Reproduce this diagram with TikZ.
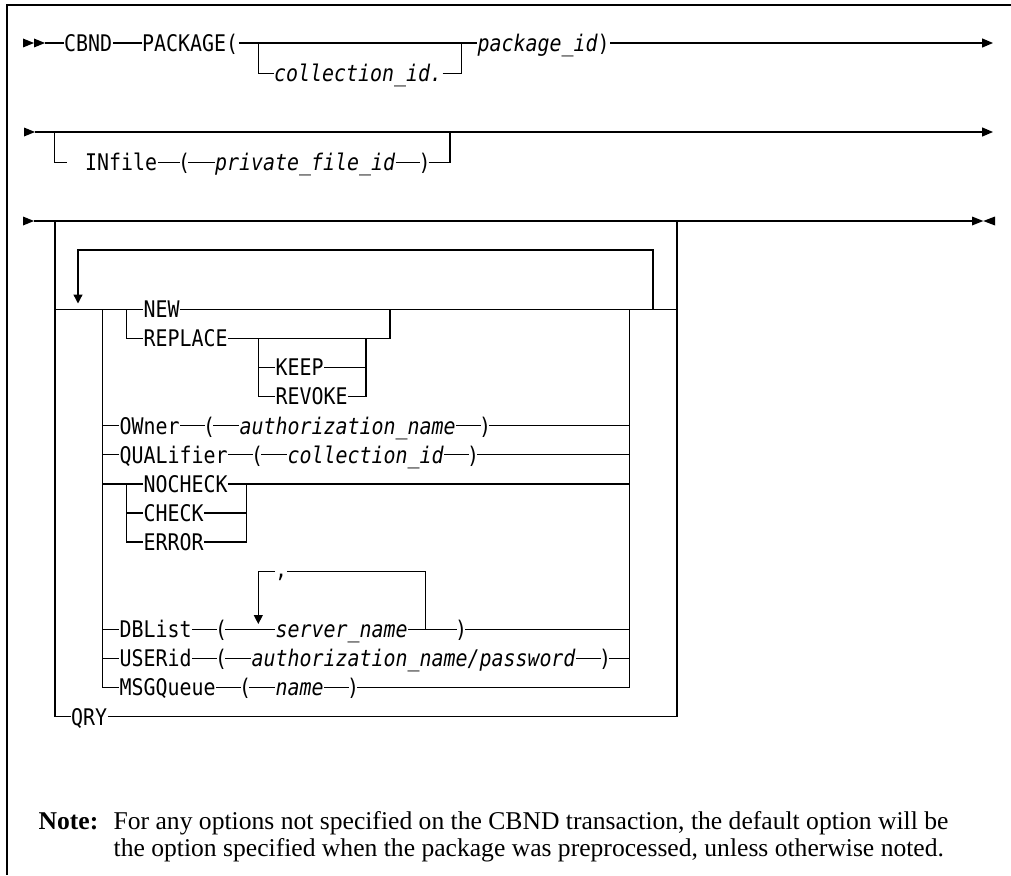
\documentclass[tikz,border=0pt]{standalone}
\usepackage{fontspec}
\setmainfont{Liberation Serif}
\newfontfamily\dmono[FakeStretch=0.87]{DejaVu Sans Mono}
\usetikzlibrary{arrows.meta}
\begin{document}
\begin{tikzpicture}[x=1pt,y=-1pt,line width=1.3pt,
  syn/.style={inner sep=0pt,font=\dmono\fontsize{22.9}{26}\selectfont,text height=16.7pt,text depth=0pt,anchor=west},
  var/.style={syn,font=\dmono\itshape\fontsize{22.9}{26}\selectfont},
  par/.style={syn,anchor=center,inner xsep=-2.5pt},
  dn/.style={-{Triangle[length=9pt,width=9pt]}},
  rt/.style={-{Triangle[length=11pt,width=9pt]}},
  notetext/.style={inner sep=0pt,anchor=base west,font=\fontsize{25.6}{28}\selectfont},
]
\useasboundingbox (0,0) rectangle (1011,875);
% frame
\coordinate (fTL) at (7,5); \coordinate (fTR) at (1011,5); \coordinate (fBL) at (7,875);
\draw[line width=1.1pt] (fTR) -- (fTL) -- (fBL);

% ---------- row 1 ----------
\fill (23,38.5) -- (34,43) -- (23,47.5) -- cycle;
\fill (34,38.5) -- (45,43) -- (34,47.5) -- cycle;
\coordinate (r1s) at (45,43); \coordinate (r1e) at (993,43);
\coordinate (b1l) at (258.3,43); \coordinate (b1lb) at (258.3,73.5);
\coordinate (b1r) at (461.7,43); \coordinate (b1rb) at (461.7,73.5);
\node[syn] (cbnd) at (63.5,43) {CBND};
\node[syn] (pkg) at (141.5,43) {PACKAGE(};
\node[var] (coll) at (273.5,73.5) {collection\_id.};
\node[syn] (pid) at (477,43) {{\itshape package\_id})};
\draw (r1s) -- (cbnd.west);
\draw (cbnd.east) -- (pkg.west);
\draw (pkg.east) -- (pid.west);
\draw (b1l) -- (b1lb) -- (coll.west);
\draw (coll.east) -- (b1rb) -- (b1r);
\draw[rt] (pid.east) -- (r1e);

% ---------- row 2 ----------
\fill (24,127.5) -- (35,132) -- (24,136.5) -- cycle;
\coordinate (r2s) at (35,132); \coordinate (r2e) at (993,132);
\coordinate (b2l) at (54.3,132); \coordinate (b2lb) at (54.3,162.5); \coordinate (b2stub) at (66.7,162.5);
\coordinate (b2r) at (450,132); \coordinate (b2rb) at (450,162.5);
\node[syn] (infile) at (84.5,162.5) {INfile};
\node[par] (lp0) at (184,162.5) {(};
\node[var] (pfid) at (214.5,162.5) {private\_file\_id};
\node[par] (rp0) at (424.5,162.5) {)};
\draw[rt] (r2s) -- (r2e);
\draw (b2l) -- (b2lb) -- (b2stub);
\draw (infile.east) -- (lp0.west);
\draw (lp0.east) -- (pfid.west);
\draw (pfid.east) -- (rp0.west);
\draw (rp0.east) -- (b2rb) -- (b2r);

% ---------- row 3 ----------
\fill (23,216.5) -- (34,221) -- (23,225.5) -- cycle;
\coordinate (r3s) at (34,221); \coordinate (r3e) at (972,221);
\coordinate (oL) at (55,221); \coordinate (oR) at (677,221);
\coordinate (oLb) at (55,716.7); \coordinate (oRb) at (677,716.7);
\coordinate (dsh1) at (683,221); \coordinate (dsh2) at (707,221);
\draw (r3s) -- (r3e);
\draw[line width=2.2pt] (dsh1) -- (dsh2);
\fill (972,216.5) -- (983.3,221) -- (972,225.5) -- cycle;
\fill (995,216.5) -- (983.3,221) -- (995,225.5) -- cycle;
\node[syn] (qry) at (70.5,716.7) {QRY};
\draw (oL) -- (oLb) -- (qry.west);
\draw (qry.east) -- (oRb) -- (oR);

% repeat loop
\coordinate (lL) at (55,309.3); \coordinate (lR) at (677,309.3);
\coordinate (rpA) at (78,250); \coordinate (rpAt) at (78,303.5);
\coordinate (rpB) at (653,250); \coordinate (rpBb) at (653,309.3);
\node[syn] (new) at (143,309.3) {NEW};
\draw (lL) -- (new.west);
\draw (new.east) -- (lR);
\draw[dn] (rpBb) -- (rpB) -- (rpA) -- (rpAt);

% option block verticals
\coordinate (opL) at (102.7,309.3); \coordinate (opR) at (629.3,309.3);

% NEW / REPLACE
\coordinate (nb) at (126.7,309.3); \coordinate (nbb) at (126.7,338.4);
\coordinate (nr) at (390,309.3); \coordinate (nrb) at (390,338.4);
\node[syn] (repl) at (143,338.4) {REPLACE};
\draw (nb) -- (nbb) -- (repl.west);
\draw (repl.east) -- (nrb) -- (nr);
% KEEP / REVOKE
\coordinate (kb) at (258.3,338.4); \coordinate (kbm) at (258.3,367.5); \coordinate (kbb) at (258.3,396.6);
\coordinate (kr) at (366,338.4); \coordinate (krm) at (366,367.5); \coordinate (krb) at (366,396.6);
\node[syn] (keep) at (275,367.5) {KEEP};
\node[syn] (revoke) at (275,396.6) {REVOKE};
\draw (kb) -- (kbb) -- (revoke.west);
\draw (kbm) -- (keep.west);
\draw (keep.east) -- (krm);
\draw (revoke.east) -- (krb) -- (kr);

% OWner
\node[syn] (own) at (119,425.7) {OWner};
\node[par] (lp1) at (209,425.7) {(};
\node[var] (auth) at (239,425.7) {authorization\_name};
\node[par] (rp1) at (485,425.7) {)};
\draw (opL |- own.west) -- (own.west);
\draw (own.east) -- (lp1.west);
\draw (lp1.east) -- (auth.west);
\draw (auth.east) -- (rp1.west);
\draw (rp1.east) -- (opR |- rp1.east);

% QUALifier
\node[syn] (qual) at (119,454.8) {QUALifier};
\node[par] (lp2) at (257,454.8) {(};
\node[var] (cid) at (287,454.8) {collection\_id};
\node[par] (rp2) at (473,454.8) {)};
\draw (opL |- qual.west) -- (qual.west);
\draw (qual.east) -- (lp2.west);
\draw (lp2.east) -- (cid.west);
\draw (cid.east) -- (rp2.west);
\draw (rp2.east) -- (opR |- rp2.east);

% NOCHECK / CHECK / ERROR
\coordinate (cb) at (126.7,483.9); \coordinate (cbm) at (126.7,513); \coordinate (cbb) at (126.7,542.1);
\coordinate (cr) at (246.7,483.9); \coordinate (crm) at (246.7,513); \coordinate (crb) at (246.7,542.1);
\node[syn] (nochk) at (143,483.9) {NOCHECK};
\node[syn] (chk) at (143,513) {CHECK};
\node[syn] (err) at (143,542.1) {ERROR};
\draw (opL |- cb) -- (cb) -- (cbb) -- (err.west);
\draw (cbm) -- (chk.west);
\draw (cb) -- (nochk.west);
\draw (nochk.east) -- (cr);
\draw (chk.east) -- (crm);
\draw (err.east) -- (crb) -- (cr) -- (opR |- cr);

% DBList
\node[syn] (dbl) at (119,629.4) {DBList};
\node[par] (lp3) at (221,629.4) {(};
\node[var] (srv) at (275,629.4) {server\_name};
\node[par] (rp3) at (461,629.4) {)};
\coordinate (ck) at (258.3,571.2); \coordinate (ckt) at (258.3,624);
\coordinate (cL1) at (275,571.2); \coordinate (cL2) at (287,571.2);
\coordinate (ckR) at (425.7,571.2); \coordinate (ckRb) at (425.7,629.4);
\node[inner sep=0pt,anchor=base,font=\dmono\fontsize{22.9}{26}\selectfont] (comma) at (281,577) {,};
\draw (opL |- dbl.west) -- (dbl.west);
\draw (dbl.east) -- (lp3.west);
\draw (lp3.east) -- (srv.west);
\draw (srv.east) -- (rp3.west);
\draw (rp3.east) -- (opR |- rp3.east);
\draw (ckRb) -- (ckR) -- (cL2);
\draw[dn] (cL1) -- (ck) -- (ckt);

% USERid
\node[syn] (usr) at (119,658.5) {USERid};
\node[par] (lp4) at (221,658.5) {(};
\node[var] (pw) at (251,658.5) {authorization\_name/password};
\node[par] (rp4) at (605,658.5) {)};
\draw (opL |- usr.west) -- (usr.west);
\draw (usr.east) -- (lp4.west);
\draw (lp4.east) -- (pw.west);
\draw (pw.east) -- (rp4.west);
\draw (rp4.east) -- (opR |- rp4.east);

% MSGQueue
\node[syn] (msg) at (119,687.6) {MSGQueue};
\node[par] (lp5) at (245,687.6) {(};
\node[var] (nm) at (275,687.6) {name};
\node[par] (rp5) at (353,687.6) {)};
\draw (opL) -- (opL |- msg.west) -- (msg.west);
\draw (msg.east) -- (lp5.west);
\draw (lp5.east) -- (nm.west);
\draw (nm.east) -- (rp5.west);
\draw (rp5.east) -- (opR |- rp5.east) -- (opR);

% note
\node[notetext,font=\bfseries\fontsize{25.6}{28}\selectfont] (notelbl) at (38,829) {Note:};
\node[notetext] (n1) at (113,829) {For any options not specified on the CBND transaction, the default option will be};
\node[notetext] (n2) at (113,856) {the option specified when the package was preprocessed, unless otherwise noted.};
\end{tikzpicture}
\end{document}
